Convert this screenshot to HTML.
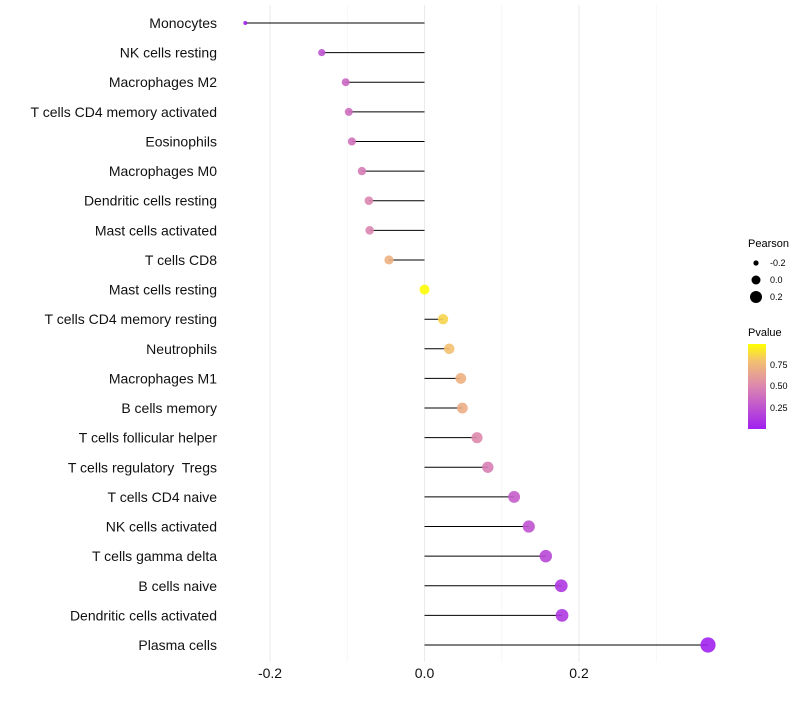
<!DOCTYPE html>
<html><head><meta charset="utf-8"><style>
body{margin:0;background:#fff;font-family:"Liberation Sans",sans-serif}
text{white-space:pre}
</style></head><body>
<svg id="c" width="800" height="700" xmlns="http://www.w3.org/2000/svg">
<defs><linearGradient id="pg" x1="0" y1="1" x2="0" y2="0">
<stop offset="0" stop-color="#a020f0"/><stop offset="0.5" stop-color="#dc86b0"/><stop offset="0.8" stop-color="#f3c070"/><stop offset="1" stop-color="#ffff00"/></linearGradient></defs>
<g id="grid"></g><g id="marks"></g><g id="labels"></g>
<g font-size="11" font-family="Liberation Sans, sans-serif">
<text x="748" y="247">Pearson</text>
<circle cx="756" cy="263" r="2.6" fill="#000"/><text x="770" y="266" font-size="9">-0.2</text>
<circle cx="756" cy="280" r="4.5" fill="#000"/><text x="770" y="283" font-size="9">0.0</text>
<circle cx="756" cy="297" r="6" fill="#000"/><text x="770" y="300" font-size="9">0.2</text>
<text x="748" y="336">Pvalue</text>
<rect x="748" y="344" width="18" height="85" fill="url(#pg)"/>
<text x="770" y="368" font-size="9">0.75</text>
<text x="770" y="389" font-size="9">0.50</text>
<text x="770" y="411" font-size="9">0.25</text>
</g>
</svg>
<script>
const categories=["Monocytes","NK cells resting","Macrophages M2","T cells CD4 memory activated","Eosinophils","Macrophages M0","Dendritic cells resting","Mast cells activated","T cells CD8","Mast cells resting","T cells CD4 memory resting","Neutrophils","Macrophages M1","B cells memory","T cells follicular helper","T cells regulatory  Tregs","T cells CD4 naive","NK cells activated","T cells gamma delta","B cells naive","Dendritic cells activated","Plasma cells"];
const pearson=[-0.232,-0.133,-0.102,-0.098,-0.094,-0.081,-0.072,-0.071,-0.046,0.0,0.024,0.032,0.047,0.049,0.068,0.082,0.116,0.135,0.157,0.177,0.178,0.367];
const pvalue=[0.02,0.25,0.35,0.38,0.4,0.45,0.5,0.5,0.72,0.99,0.86,0.8,0.72,0.7,0.52,0.46,0.3,0.25,0.2,0.12,0.12,0.01];
const xTicks=[-0.2,0,0.2];
const xTickLabels=["-0.2","0.0","0.2"];
const NS="http://www.w3.org/2000/svg";
const x=v=>424.5+v*772.5;
const y=i=>23+i*(622/21);
function mk(t,a,p){const e=document.createElementNS(NS,t);for(const k in a)e.setAttribute(k,a[k]);document.getElementById(p).appendChild(e);return e;}
function lerp(a,b,t){return a.map((v,i)=>Math.round(v+(b[i]-v)*t));}
function col(p){const s=[[0,[160,32,240]],[0.5,[220,134,176]],[0.8,[243,192,112]],[1,[255,255,0]]];for(let i=1;i<s.length;i++){if(p<=s[i][0]){const t=(p-s[i-1][0])/(s[i][0]-s[i-1][0]);return "rgb("+lerp(s[i-1][1],s[i][1],t).join(",")+")";}}return "rgb(255,255,0)";}
const mn=Math.min(...pearson),mx=Math.max(...pearson);
const rad=v=>Math.sqrt(4+(v-mn)/(mx-mn)*54);
[-0.1,0.1,0.3].forEach(v=>{const g=mk("line",{x1:x(v),x2:x(v),y1:5,y2:662,stroke:"#f3f3f3","stroke-width":0.6},"grid");});
xTicks.forEach((v,i)=>{const g=mk("line",{x1:x(v),x2:x(v),y1:5,y2:662,stroke:"#ebebeb","stroke-width":1.1},"grid");


const t=mk("text",{x:x(v),y:678,"text-anchor":"middle","font-size":14,fill:"#111"},"labels");t.textContent=xTickLabels[i];

});
categories.forEach((c,i)=>{const t=mk("text",{x:217,y:y(i)+5,"text-anchor":"end","font-size":14,fill:"#111"},"labels");t.textContent=c;


const l=mk("line",{x1:x(0),x2:x(pearson[i]),y1:y(i),y2:y(i),stroke:"#000","stroke-width":1},"marks");


const d=mk("circle",{cx:x(pearson[i]),cy:y(i),r:rad(pearson[i]),fill:col(pvalue[i]),"fill-opacity":0.9},"marks");

});
</script>
</body></html>
